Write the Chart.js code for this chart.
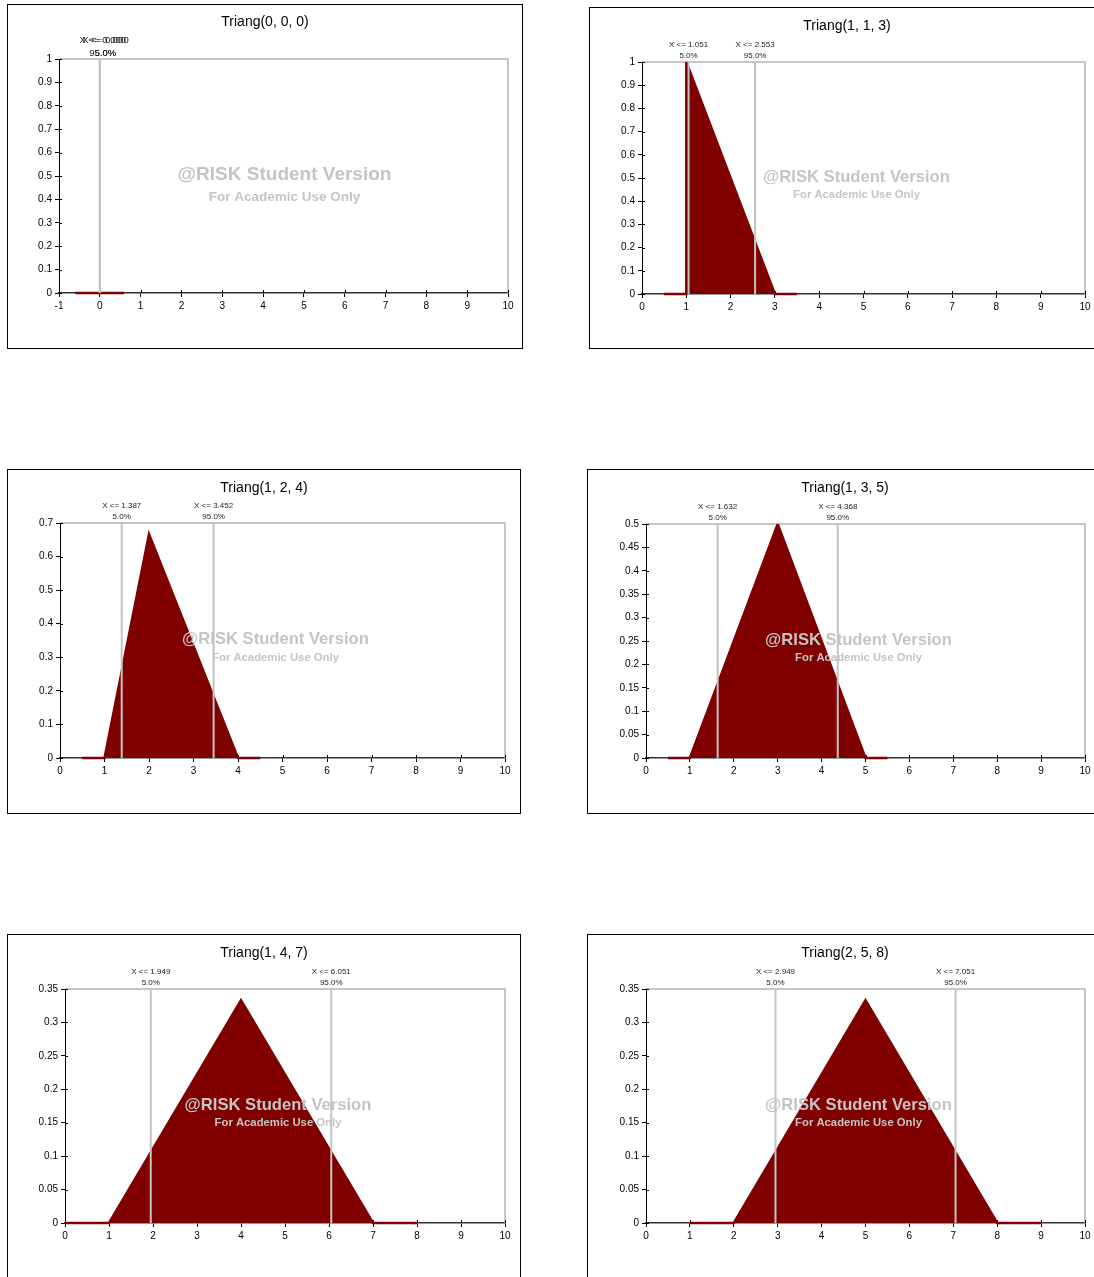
<!DOCTYPE html>
<html><head><meta charset="utf-8">
<script src="https://cdn.jsdelivr.net/npm/chart.js@4/dist/chart.umd.min.js"></script>
<style>
html,body{margin:0;padding:0;background:#fff;}
#page{position:relative;width:1094px;height:1277px;overflow:hidden;background:#fff;}
.box{position:absolute;border:1px solid #000;box-sizing:border-box;pointer-events:none;}
canvas{position:absolute;}
</style></head><body><div id="page"></div>
<script>
// ---------------- DATA ----------------
const titles = ['Triang(0, 0, 0)', 'Triang(1, 1, 3)', 'Triang(1, 2, 4)', 'Triang(1, 3, 5)', 'Triang(1, 4, 7)', 'Triang(2, 5, 8)'];

// density curves (x, y) per panel
const densX1 = [-0.6, 0.6];            const densY1 = [0, 0];
const densX2 = [0.5, 1, 1, 3, 3.5];    const densY2 = [0, 0, 1, 0, 0];
const densX3 = [0.5, 1, 2, 4, 4.5];    const densY3 = [0, 0, 0.6667, 0, 0];
const densX4 = [0.5, 1, 3, 5, 5.5];    const densY4 = [0, 0, 0.5, 0, 0];
const densX5 = [0, 1, 4, 7, 8];        const densY5 = [0, 0, 0.3333, 0, 0];
const densX6 = [1, 2, 5, 8, 9];        const densY6 = [0, 0, 0.3333, 0, 0];

// percentile markers (5% and 95%)
const pctX1 = [0.000, 0.000];
const pctX2 = [1.051, 2.553];
const pctX3 = [1.387, 3.452];
const pctX4 = [1.632, 4.368];
const pctX5 = [1.949, 6.051];
const pctX6 = [2.949, 7.051];
const pctLabels1 = ['X <= 0.000', 'X <= 0.000'];
const pctLabels2 = ['X <= 1.051', 'X <= 2.553'];
const pctLabels3 = ['X <= 1.387', 'X <= 3.452'];
const pctLabels4 = ['X <= 1.632', 'X <= 4.368'];
const pctLabels5 = ['X <= 1.949', 'X <= 6.051'];
const pctLabels6 = ['X <= 2.949', 'X <= 7.051'];
const pctProbs = ['5.0%', '95.0%'];

// axis ticks
const xTicks1 = [-1, 0, 1, 2, 3, 4, 5, 6, 7, 8, 9, 10];
const xTicks = [0, 1, 2, 3, 4, 5, 6, 7, 8, 9, 10];
const yTicks10 = [0, 0.1, 0.2, 0.3, 0.4, 0.5, 0.6, 0.7, 0.8, 0.9, 1];
const yTickLabels10 = ['0', '0.1', '0.2', '0.3', '0.4', '0.5', '0.6', '0.7', '0.8', '0.9', '1'];
const yTicks07 = [0, 0.1, 0.2, 0.3, 0.4, 0.5, 0.6, 0.7];
const yTickLabels07 = ['0', '0.1', '0.2', '0.3', '0.4', '0.5', '0.6', '0.7'];
const yTicks05 = [0, 0.05, 0.1, 0.15, 0.2, 0.25, 0.3, 0.35, 0.4, 0.45, 0.5];
const yTickLabels05 = ['0', '0.05', '0.1', '0.15', '0.2', '0.25', '0.3', '0.35', '0.4', '0.45', '0.5'];
const yTicks035 = [0, 0.05, 0.1, 0.15, 0.2, 0.25, 0.3, 0.35];
const yTickLabels035 = ['0', '0.05', '0.1', '0.15', '0.2', '0.25', '0.3', '0.35'];

const watermark1 = '@RISK Student Version';
const watermark2 = 'For Academic Use Only';

// ---------------- LAYOUT ----------------
const FONT = "'Liberation Sans', Arial, Helvetica, sans-serif";
Chart.defaults.font.family = FONT;
Chart.defaults.color = '#000';

const panels = [
  {box:[7,4,516,345],   plot:[59,59,508,293],    dx:densX1, dy:densY1, px:pctX1, pl:pctLabels1, xt:xTicks1, yt:yTicks10, yl:yTickLabels10, wm:[19,13.5,22,1], lblFont:9.5, lblOff:[5.6,3]},
  {box:[589,7,516,342], plot:[642,62,1085,294],  dx:densX2, dy:densY2, px:pctX2, pl:pctLabels2, xt:xTicks,  yt:yTicks10, yl:yTickLabels10, wm:[16.6,11.3,18,-7], lblFont:8, lblOff:[0,0]},
  {box:[7,469,514,345], plot:[60,523,505,758],   dx:densX3, dy:densY3, px:pctX3, pl:pctLabels3, xt:xTicks,  yt:yTicks07, yl:yTickLabels07, wm:[16.6,11.3,18,-7], lblFont:8, lblOff:[0,0]},
  {box:[587,469,516,345], plot:[646,524,1085,758], dx:densX4, dy:densY4, px:pctX4, pl:pctLabels4, xt:xTicks, yt:yTicks05, yl:yTickLabels05, wm:[16.6,11.3,18,-7], lblFont:8, lblOff:[0,0]},
  {box:[7,934,514,350], plot:[65,989,505,1223],  dx:densX5, dy:densY5, px:pctX5, pl:pctLabels5, xt:xTicks,  yt:yTicks035, yl:yTickLabels035, wm:[16.6,11.3,18,-7], lblFont:8, lblOff:[0,0]},
  {box:[587,934,516,350], plot:[646,989,1085,1223], dx:densX6, dy:densY6, px:pctX6, pl:pctLabels6, xt:xTicks, yt:yTicks035, yl:yTickLabels035, wm:[16.6,11.3,18,-7], lblFont:8, lblOff:[0,0]}
];

const page = document.getElementById('page');
const Y_AXIS_W = 34, X_AXIS_H = 22;

panels.forEach((p, idx) => {
  const [bl, bt, bw, bh] = p.box;
  const [pl, pt, pr, pb] = p.plot;
  const cv = document.createElement('canvas');
  cv.width = bw; cv.height = bh;
  cv.style.left = bl + 'px'; cv.style.top = bt + 'px';
  cv.style.width = bw + 'px'; cv.style.height = bh + 'px';
  page.appendChild(cv);
  const box = document.createElement('div');
  box.className = 'box';
  box.style.left = bl + 'px'; box.style.top = bt + 'px';
  box.style.width = bw + 'px'; box.style.height = bh + 'px';
  page.appendChild(box);

  const yMax = p.yt[p.yt.length - 1];
  const xMin = p.xt[0], xMax = p.xt[p.xt.length - 1];

  const datasets = [];
  p.px.forEach((v) => {
    datasets.push({
      data: [{x: v, y: 0}, {x: v, y: yMax}],
      borderColor: '#c3c3c3', borderWidth: 2, pointRadius: 0, fill: false, order: 0
    });
  });
  datasets.push({
    data: p.dx.map((x, i) => ({x: x, y: p.dy[i]})),
    borderColor: '#800000', backgroundColor: '#800000', borderWidth: 2.5,
    pointRadius: 0, fill: 'origin', tension: 0, order: 1,
    clip: {left: 4, right: 4, top: 0, bottom: 4}
  });

  const decor = {
    id: 'decor' + idx,
    beforeDatasetsDraw(chart) {
      const ctx = chart.ctx, a = chart.chartArea;
      const xs = chart.scales.x, ys = chart.scales.y;
      ctx.save();
      ctx.strokeStyle = '#b4b4b4'; ctx.lineWidth = 1.5;
      ctx.beginPath();
      ctx.moveTo(a.left, a.top); ctx.lineTo(a.right, a.top); ctx.lineTo(a.right, a.bottom);
      ctx.stroke();
      // inner tick parts
      ctx.lineWidth = 1; ctx.strokeStyle = '#000';
      ctx.beginPath();
      p.xt.forEach(v => {
        const x = Math.round(xs.getPixelForValue(v)) + 0.5;
        ctx.moveTo(x, a.bottom); ctx.lineTo(x, a.bottom - 3);
      });
      p.yt.forEach(v => {
        const y = Math.round(ys.getPixelForValue(v)) + 0.5;
        ctx.moveTo(a.left, y); ctx.lineTo(a.left + 3, y);
      });
      ctx.stroke();
      ctx.restore();
    },
    afterDatasetsDraw(chart) {
      const ctx = chart.ctx, a = chart.chartArea;
      const cx = (a.left + a.right) / 2 + p.wm[3];
      const cy = (a.top + a.bottom) / 2 - 1;
      ctx.save();
      ctx.fillStyle = '#c4c4c4';
      ctx.textAlign = 'center'; ctx.textBaseline = 'middle';
      ctx.font = 'bold ' + p.wm[0] + 'px ' + FONT;
      ctx.fillText(watermark1, cx, cy);
      ctx.font = 'bold ' + p.wm[1] + 'px ' + FONT;
      ctx.fillText(watermark2, cx, cy + p.wm[2]);
      ctx.restore();
    },
    afterDraw(chart) {
      const ctx = chart.ctx, a = chart.chartArea;
      const xs = chart.scales.x;
      ctx.save();
      // title
      ctx.fillStyle = '#000';
      ctx.textAlign = 'center'; ctx.textBaseline = 'middle';
      ctx.font = '14px ' + FONT;
      ctx.fillText(titles[idx], bw / 2, (idx === 0 ? 18 : 19));
      // percentile labels
      ctx.font = p.lblFont + 'px ' + FONT;
      ctx.fillStyle = '#222';
      p.px.forEach((v, i) => {
        const x = xs.getPixelForValue(v) + p.lblOff[i];
        const off = idx === 0 ? 19 : 17;
        ctx.fillText(p.pl[i], x, a.top - off);
        ctx.fillText(pctProbs[i], x, a.top - 6);
      });
      ctx.restore();
    }
  };

  new Chart(cv, {
    type: 'line',
    data: { datasets },
    options: {
      responsive: false, animation: false, devicePixelRatio: 1,
      layout: { padding: {
        left: pl - bl - Y_AXIS_W,
        top: pt - bt,
        right: bl + bw - pr,
        bottom: bt + bh - pb - X_AXIS_H
      }},
      plugins: { legend: { display: false }, tooltip: { enabled: false }, title: { display: false } },
      scales: {
        x: {
          type: 'linear', min: xMin, max: xMax,
          afterBuildTicks: s => { s.ticks = p.xt.map(v => ({value: v})); },
          afterFit: s => { s.height = X_AXIS_H; },
          ticks: { font: { size: 10 }, padding: 3, color: '#000', maxRotation: 0, autoSkip: false,
                   callback: (v) => String(v) },
          grid: { display: true, drawOnChartArea: false, drawTicks: true, tickLength: 4, color: '#000' },
          border: { display: true, color: '#333', width: 1.5 }
        },
        y: {
          type: 'linear', min: 0, max: yMax,
          afterBuildTicks: s => { s.ticks = p.yt.map(v => ({value: v})); },
          afterFit: s => { s.width = Y_AXIS_W; },
          ticks: { font: { size: 10 }, padding: 3, color: '#000', autoSkip: false,
                   callback: (v, i) => p.yl[i] },
          grid: { display: true, drawOnChartArea: false, drawTicks: true, tickLength: 4, color: '#000' },
          border: { display: true, color: '#000', width: 1 }
        }
      }
    },
    plugins: [decor]
  });
});
</script></body></html>
